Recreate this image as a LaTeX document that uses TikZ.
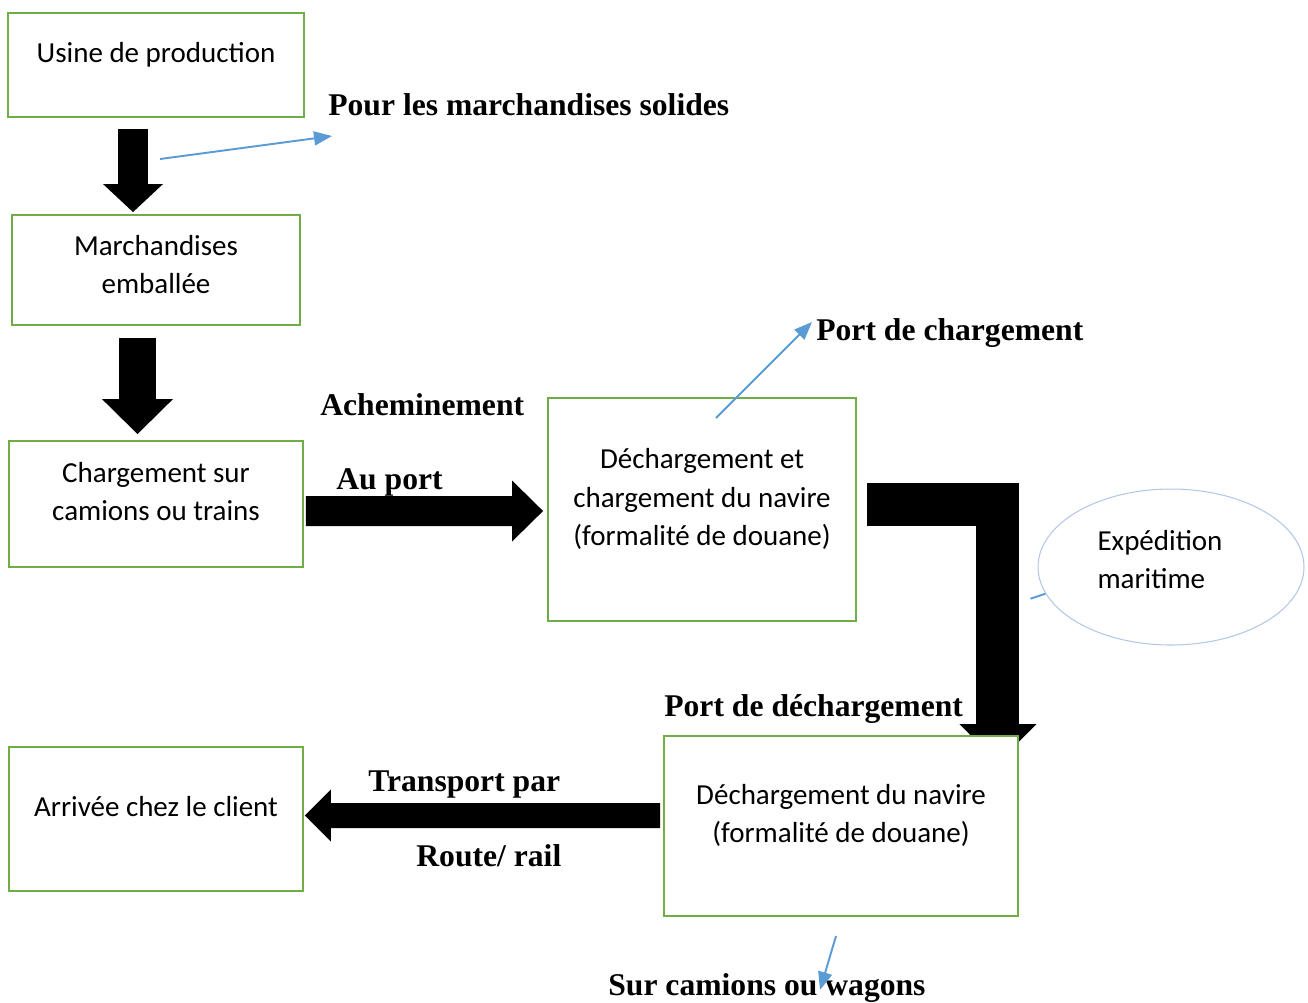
\documentclass[tikz,border=0pt]{standalone}
\usepackage{fontspec}
\setmainfont{Liberation Serif}
\newfontfamily\boxfont{Carlito}
\usepackage{xcolor}
\usetikzlibrary{arrows.meta, positioning, shapes.geometric, backgrounds}
\definecolor{boxgreen}{RGB}{112,173,71}
\definecolor{callblue}{RGB}{91,155,213}
\definecolor{ovalblue}{RGB}{180,199,231}

\begin{document}
\begin{tikzpicture}[
    x=0.02cm, y=-0.02cm,
    box/.style={rectangle, draw=boxgreen, line width=1.1pt, fill=white,
                align=center, inner sep=0pt, text depth=0.5cm,
                font=\boxfont\fontsize{16.5}{22}\selectfont},
    oval/.style={ellipse, draw=ovalblue, line width=0.6pt, fill=white,
                 align=left, inner sep=0pt, minimum width=5.32cm, minimum height=3.12cm,
                 text depth=0.3cm, font=\boxfont\fontsize{16.5}{22}\selectfont},
    lbl/.style={anchor=base west, inner sep=0pt, font=\fontsize{18}{22}\selectfont\bfseries},
    blk/.style={draw=black, line cap=butt, line join=miter},
    callout/.style={draw=callblue, line width=1.1pt,
                    -{Triangle[length=0.36cm, width=0.28cm]}}
  ]
    \useasboundingbox (0,0) rectangle (1308,1002);

    % boxes
    \node[box, minimum width=5.92cm, minimum height=2.08cm] (usine)   at (156,65)    {Usine de production};
    \node[box, minimum width=5.76cm, minimum height=2.2cm, text depth=0.22cm] (march) at (156,270) {Marchandises\\emballée};
    \node[box, minimum width=5.88cm, minimum height=2.52cm] (charg)   at (156,504)   {Chargement sur\\camions ou trains};
    \node[box, minimum width=6.16cm, minimum height=4.46cm] (dechnav) at (702,509.5) {Déchargement et\\chargement du navire\\(formalité de douane)};
    \node[box, minimum width=7.08cm, minimum height=3.6cm]  (dechdou) at (841,826)   {Déchargement du navire\\(formalité de douane)};
    \node[box, minimum width=5.88cm, minimum height=2.88cm] (client)  at (156,819)   {Arrivée chez le client};
    \node[oval] (expe) at (1171,567) {Expédition\hspace*{0.44cm}\\maritime};

    % labels
    \node[lbl] (solides)  at (328,115) {Pour les marchandises solides};
    \node[lbl] (portch)   at (816,340) {Port de chargement};
    \node[lbl] (achem)    at (320,415) {Acheminement};
    \node[lbl] (auport)   at (336,489) {Au port};
    \node[lbl] (portdech) at (664,716) {Port de déchargement};
    \node[lbl] (transp)   at (368,791) {Transport par};
    \node[lbl] (route)    at (416,866) {Route/ rail};
    \node[lbl] (surcam)   at (608,995) {Sur camions ou wagons};

    % block arrows
    \draw[blk, line width=0.6cm, -{Triangle[length=0.56cm, width=1.2cm, line width=0pt]}]
      ([xshift=-0.46cm, yshift=-0.22cm]usine.south) -- ([xshift=-0.46cm, yshift=0.04cm]march.north);
    \draw[blk, line width=0.74cm, -{Triangle[length=0.7cm, width=1.42cm, line width=0pt]}]
      ([xshift=-0.37cm, yshift=-0.24cm]march.south) -- ([xshift=-0.37cm, yshift=0.12cm]charg.north);
    \draw[blk, line width=0.6cm, -{Triangle[length=0.62cm, width=1.22cm, line width=0pt]}]
      ([xshift=0.04cm, yshift=-0.14cm]charg.east) -- ([xshift=-0.08cm, yshift=-0.03cm]dechnav.west);
    \begin{scope}[on background layer]
      \draw[blk, line width=0.86cm, -{Triangle[length=0.78cm, width=1.54cm, line width=0pt]}]
        ([xshift=0.2cm, yshift=0.1cm]dechnav.east) -| ([xshift=-0.42cm, yshift=-0.56cm]dechdou.north east);
    \end{scope}
    \draw[blk, line width=0.5cm, -{Triangle[length=0.52cm, width=1.04cm, line width=0pt]}]
      ([xshift=-0.06cm, yshift=0.21cm]dechdou.west) -- ([xshift=0.02cm, yshift=0.07cm]client.east);

    % callouts
    \coordinate (c1) at (160,159);
    \coordinate (c1e) at (332,136);
    \coordinate (c2) at (716,418);
    \coordinate (c2e) at (812,322);
    \coordinate (c3) at (836,936);
    \coordinate (c3e) at (820,990);
    \draw[callout] (c1) -- (c1e);
    \draw[callout] (c2) -- (c2e);
    \draw[callout] (c3) -- (c3e);
    \draw[draw=callblue, line width=1.1pt] (expe.192) -- ++(-15,5);

  \end{tikzpicture}
\end{document}
